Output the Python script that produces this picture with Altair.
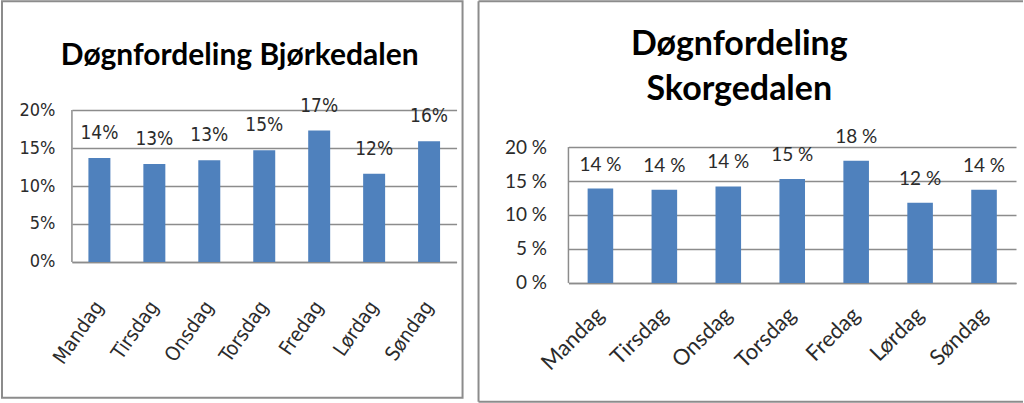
import altair as alt
import pandas as pd

# ---- data ----
days = ["Mandag", "Tirsdag", "Onsdag", "Torsdag", "Fredag", "Lørdag", "Søndag"]
bjorke = [13.7, 12.9, 13.4, 14.7, 17.3, 11.6, 15.9]
skorge = [13.9, 13.7, 14.2, 15.3, 18.0, 11.8, 13.7]
title_left = "Døgnfordeling Bjørkedalen"
title_right = ["Døgnfordeling", "Skorgedalen"]
y_ticks = [0, 5, 10, 15, 20]

BLUE = "#4F81BD"
GRID = "#8C8C8C"
FRAME = "#8C8C8C"
TXT = "#2B2B2B"
NARROW = "DejaVu Sans Condensed, sans-serif"
CAL = "Lato, Carlito, sans-serif"

one = pd.DataFrame({"k": [0]})
span = pd.DataFrame({"lo": [0], "hi": [20]})


def bars_and_labels(values, ymax, sep, font, fs_tick, fs_lab, fs_x, angle, xpad, ypad, dy):
    df = pd.DataFrame({"day": days, "pct": values})
    df["label"] = [f"{round(v)}{sep}%" for v in values]
    xscale = alt.Scale(paddingInner=0.6, paddingOuter=0.3)
    xaxis = alt.Axis(labelAngle=angle, labelAlign="right", labelBaseline="middle",
                     labelFont=font, labelFontSize=fs_x, labelColor=TXT,
                     labelPadding=xpad, ticks=False, grid=False,
                     domainColor=GRID, domainWidth=1.5, labelLimit=300)
    yscale = alt.Scale(domain=[0, ymax], nice=False)
    yaxis = alt.Axis(values=y_ticks, labelExpr=f"datum.value + '{sep}%'",
                     labelFont=font, labelFontSize=fs_tick, labelColor=TXT,
                     labelPadding=ypad, ticks=False, grid=True, gridColor=GRID,
                     gridWidth=1.5, domain=False, labelOverlap=False)
    x = alt.X("day:N", sort=days, title=None, scale=xscale, axis=xaxis)
    y = alt.Y("pct:Q", title=None, scale=yscale, axis=yaxis)
    base = alt.Chart(df)
    bars = base.mark_bar(color=BLUE).encode(x=x, y=y)
    labels = base.mark_text(dy=-dy, baseline="middle", font=font,
                            fontSize=fs_lab, color=TXT).encode(x=x, y=y, text="label:N")
    vline = alt.Chart(span).mark_rule(color=GRID, strokeWidth=1.5).encode(
        x=alt.value(0),
        y=alt.Y("lo:Q", title=None, scale=yscale, axis=yaxis), y2="hi:Q")
    return bars, labels, vline


# ---- left panel (plot area top at y=110) ----
lb, ll, lv = bars_and_labels(bjorke, 20, "", NARROW, 18, 19, 20, -55, 41, 17, 25)
l_frame = alt.Chart(one).mark_rect(filled=False, stroke=FRAME, strokeWidth=2).encode(
    x=alt.value(-70), x2=alt.value(391), y=alt.value(-109), y2=alt.value(288))
l_title = alt.Chart(one).mark_text(
    text=title_left, font=CAL, fontSize=30, fontWeight="bold",
    align="center", baseline="alphabetic", color="black").encode(
    x=alt.value(168), y=alt.value(-45))
left = alt.layer(l_frame, lb, lv, ll, l_title).properties(width=385, height=152)

# ---- right panel (same origin; 20 % sits 37 px lower) ----
R_H = 173
R_MAX = 20 * R_H / 136
rb, rl, rv = bars_and_labels(skorge, R_MAX, " ", CAL, 19, 19, 22, -45, 28, 22, 24)
r_top = alt.Chart(one).mark_rule(stroke=FRAME, strokeWidth=2).encode(
    x=alt.value(-90), x2=alt.value(455), y=alt.value(-109))
r_bot = alt.Chart(one).mark_rule(stroke=FRAME, strokeWidth=2).encode(
    x=alt.value(-90), x2=alt.value(455), y=alt.value(292))
r_left = alt.Chart(one).mark_rule(stroke=FRAME, strokeWidth=2).encode(
    x=alt.value(-90), y=alt.value(-109), y2=alt.value(292))
r_title = alt.Chart(one).mark_text(
    text=title_right, font=CAL, fontSize=34, fontWeight="bold", lineHeight=45,
    align="center", baseline="alphabetic", color="black").encode(
    x=alt.value(171), y=alt.value(-55))
right = alt.layer(r_top, r_bot, r_left, rb, rv, rl, r_title).properties(width=448, height=R_H)

chart = (
    alt.hconcat(left, right, spacing=14)
    .properties(padding={"left": 1, "top": 0, "right": 0, "bottom": 0}, background="white")
    .configure_view(stroke=None)
)

chart.save("out.html", embed_options={"renderer": "svg", "actions": False})
